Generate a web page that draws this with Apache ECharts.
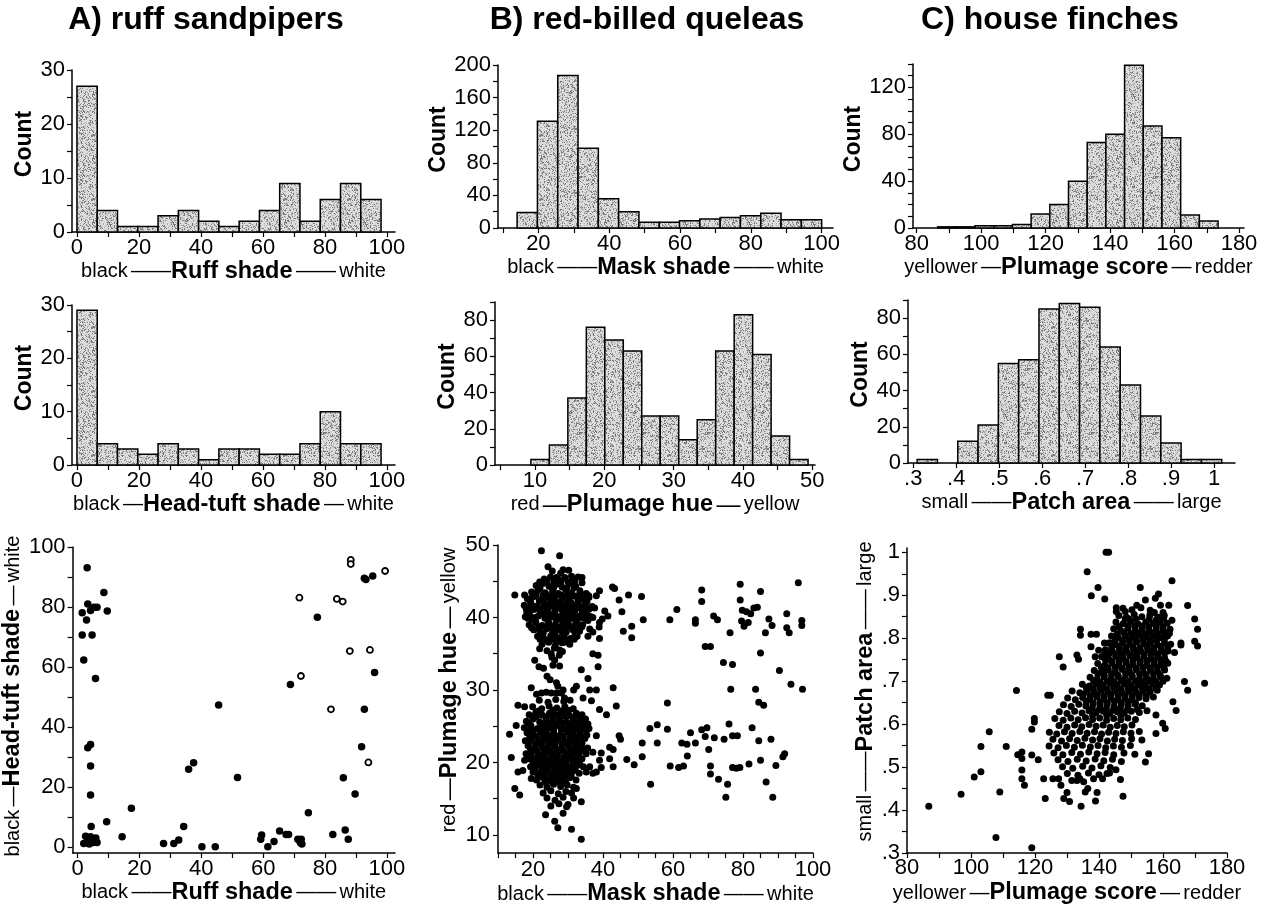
<!DOCTYPE html>
<html><head><meta charset="utf-8">
<script src="https://cdn.jsdelivr.net/npm/echarts@6/dist/echarts.min.js"></script>
<style>html,body{margin:0;padding:0;background:#fff}#c{width:1264px;height:907px}</style>
</head><body><div id="c"></div>
<script>
// ---------------- DATA ----------------
const panelTitles = ['A) ruff sandpipers', 'B) red-billed queleas', 'C) house finches'];

// histograms: [low edge, high edge] of the binned range and the counts of its 15 bins
const ruffShadeRange = [0, 98.1];
const ruffShadeCounts = [27, 4, 1, 1, 3, 4, 2, 1, 2, 4, 9, 2, 6, 9, 6];
const headTuftRange = [0, 98.1];
const headTuftCounts = [29, 4, 3, 2, 4, 3, 1, 3, 3, 2, 2, 4, 10, 4, 4];
const maskShadeRange = [14, 100];
const maskShadeCounts = [19, 131, 187, 98, 36, 20, 7, 7, 9, 11, 13, 15, 18, 10, 10];
const plumageHueRange = [9.4, 49.4];
const plumageHueCounts = [3, 11, 37, 76, 69, 63, 27, 27, 14, 25, 63, 83, 61, 16, 3];
const plumageScoreRange = [86.5, 173.5];
const plumageScoreCounts = [1, 1, 2, 2, 3, 12, 20, 40, 73, 80, 139, 87, 77, 11, 6];
const patchAreaRange = [0.309, 1.018];
const patchAreaCounts = [2, 0, 12, 21, 55, 57, 85, 88, 86, 64, 43, 26, 11, 2, 2];

// ruff sandpipers: [ruff shade, head-tuft shade]
const ruffFilled = [[3.1,93.1],[1.5,78.1],[3.3,81.0],[4.2,78.8],[2.9,75.7],[6.3,79.9],[5.3,79.9],[8.5,84.8],[9.6,78.7],[1.5,70.7],[4.7,70.7],[2.0,62.3],[5.8,56.2],[45.6,47.3],
[92.7,89.6],[93.2,89.2],[95.4,90.3],[77.5,76.6],[96.0,58.2],[68.8,54.2],[92.7,45.9],
[2.0,1.2],[3.3,33.1],[4.2,34.2],[4.2,27.0],[4.2,17.3],[4.4,6.8],[3.3,2.5],[4.2,3.4],[5.0,1.5],[5.9,3.0],[6.3,1.5],[3.0,1.5],[4.6,2.0],[2.6,3.6],[5.4,2.7],[3.8,1.0],
[9.4,8.4],[14.4,3.4],[17.4,12.9],[27.8,1.2],[31.1,1.2],[32.7,2.3],[34.3,6.8],[35.9,25.9],[37.5,28.1],[40.2,0.1],[44.5,0.1],[51.7,23.2],
[59.2,2.6],[59.5,4.0],[61.5,0.1],[63.5,1.8],[65.3,5.3],[67.4,4.2],[68.2,4.2],[71.2,2.6],[72.3,2.6],[72.0,1.5],[72.5,1.0],[74.6,11.4],[82.5,4.2],[85.9,23.1],[86.5,5.7],[87.5,2.6],[89.7,17.7],[91.8,33.4]];
const ruffOpen = [[88.3,95.7],[88.3,94.3],[99.4,92.0],[71.7,83.1],[83.8,82.7],[85.7,81.8],[88.0,65.3],[94.5,65.7],[72.2,57.0],[81.9,45.9],[94.0,28.2]];

// red-billed queleas: [mask shade, plumage hue]
const queleaSparse = [[47.3,43.1],[51.0,42.9],[45.4,40.8],[51.5,39.7],[45.8,38.1],[48.2,38.8],[48.2,37.2],[59.1,39.7],[61.1,41.1],[68.2,43.8],[68.2,42.2],[66.4,39.7],[66.4,39.2],[71.6,40.2],[72.7,39.7],[69.2,36.0],[70.7,36.0],[76.3,37.9],[74.4,33.8],[77.0,33.5],[76.5,30.1],[79.2,44.6],[79.2,42.4],[79.8,41.0],[81.0,40.8],[82.2,40.5],[83.1,41.3],[84.1,41.4],[79.6,39.5],[80.3,38.8],[81.5,39.3],[85.0,43.6],[85.0,35.1],[86.4,37.9],[87.4,39.8],[88.3,38.9],[92.5,40.5],[92.5,38.6],[93.2,37.9],[95.8,44.8],[96.8,39.6],[96.8,38.9],[90.4,32.7],[93.7,30.8],[97.0,30.1],[83.6,30.1],[84.5,28.3],[85.9,27.9],[58.4,28.2],[53.4,24.7],[55.5,25.2],[58.4,24.6],[51.2,22.7],[55.5,22.7],[46.8,20.4],[48.9,19.7],[51.2,20.8],[53.6,17.0],[59.2,19.5],[61.6,19.3],[63.0,19.5],[62.5,22.7],[64.0,22.5],[65.0,24.1],[66.4,22.7],[64.1,20.9],[68.2,24.5],[69.7,24.8],[69.2,23.6],[70.2,21.8],[71.8,23.4],[70.7,19.5],[70.7,18.4],[73.0,17.7],[74.6,23.2],[76.0,25.3],[77.0,23.7],[78.4,23.7],[75.6,17.0],[75.1,15.2],[77.0,19.3],[78.1,19.2],[79.1,19.3],[81.7,19.8],[82.6,24.8],[84.5,23.0],[85.0,20.3],[88.0,23.2],[89.4,19.6],[86.6,17.3],[88.5,15.2],[91.4,20.8],[91.9,21.2],
[22.4,49.2],[27.6,48.5],[24.3,47.0],[14.8,43.1],[17.6,43.1],[28.6,46.6],[26.7,45.5],[31.0,45.7],[34.0,45.5],[34.0,44.8],[38.1,43.0],[39.0,43.7],[42.7,44.2],[43.3,44.0],[44.6,42.4],[37.6,41.3],[40.5,40.9],[41.4,40.2],[39.8,39.8],[39.0,39.3],[37.1,40.0],[37.1,38.0],[38.9,38.7],[39.0,37.1],[36.2,38.4],[35.7,37.4],[37.1,35.0],[38.6,34.8],[38.6,33.2],[33.8,32.8],[35.7,31.6],[42.9,30.3],[38.1,30.0],[36.2,30.0],[32.4,30.5],[31.6,30.0],[41.0,26.6],[43.8,27.8],[39.0,27.3],[36.7,28.5],[34.3,28.9],[35.7,25.3],[34.8,24.8],[38.1,23.7],[44.6,23.7],[45.0,23.2],[41.9,22.1],[42.9,21.8],[41.9,20.5],[39.5,21.3],[37.1,21.4],[35.2,21.2],[39.0,20.3],[39.5,19.3],[42.9,19.4],[36.2,19.4],[37.1,18.5],[35.2,18.7],[38.1,18.7],[33.8,14.6],[33.8,9.4],[31.0,10.8],[27.1,11.0],[26.2,11.9],[23.6,12.8],[28.6,13.0],[30.0,14.2],[31.6,15.1],[32.4,16.4],[16.2,15.5],[14.8,16.4],[15.7,18.7],[13.8,20.7],[13.3,23.9],[15.7,27.9],[17.6,27.7],[15.2,25.1],[18.6,24.4],[17.6,20.3],[17.1,18.9],[19.5,17.8],
[21.9,35.7],[20.5,34.1],[21.7,33.2],[23.0,33.0],[24.0,31.9],[24.9,31.4],[26.7,31.0],[26.2,34.1],[25.7,33.4],[25.2,35.0],[27.6,35.5],[29.0,36.6],[27.6,33.3],[27.1,30.5],[19.5,30.3],[21.0,29.4],[22.4,29.6],[23.8,29.7],[25.2,29.6],[26.7,29.6],[28.1,29.6],[29.0,28.9],[28.6,30.0],[21.9,26.9],[21.0,26.3]];
const queleaYellowCluster = [[25.5,46.4],[27.9,46.1],[30.2,46.5],
[23.2,45.3],[25.0,45.6],[27.3,45.2],[29.1,45.5],[31.5,45.1],[32.9,45.6],
[20.9,44.4],[22.8,44.7],[24.6,44.3],[26.6,44.6],[28.3,44.2],[30.4,44.7],[32.2,44.3],
[19.6,43.5],[21.4,43.8],[23.5,43.4],[25.6,43.7],[27.2,43.3],[29.3,43.9],[31.1,43.4],[33.4,43.7],[35.2,43.3],
[18.4,42.6],[20.3,42.9],[22.4,42.5],[24.2,42.8],[26.1,42.4],[28.4,42.8],[30.2,42.5],[32.3,42.9],[34.1,42.5],[36.0,42.8],
[17.5,41.7],[19.4,41.9],[21.2,41.6],[23.3,42.0],[25.2,41.7],[27.1,41.9],[29.3,41.6],[31.0,42.0],[33.1,41.7],[35.0,41.9],[36.9,41.5],
[18.2,40.8],[20.2,41.1],[22.1,40.7],[24.1,41.0],[26.2,40.8],[28.1,41.1],[30.2,40.8],[32.0,41.0],[34.1,40.7],[35.8,41.1],
[17.8,40.1],[19.7,39.8],[21.5,40.2],[23.4,39.9],[25.2,40.1],[27.3,39.8],[29.2,40.0],[31.1,39.9],[33.2,40.2],[35.1,39.8],[36.6,40.1],
[18.9,39.0],[20.8,39.3],[22.6,38.9],[24.6,39.2],[26.4,39.0],[28.5,39.3],[30.3,38.9],[32.2,39.2],[34.2,39.0],
[20.2,38.3],[22.0,38.0],[23.8,38.4],[25.7,38.1],[27.6,38.3],[29.5,38.0],[31.4,38.3],[33.3,38.1],
[21.3,37.4],[23.1,37.1],[25.1,37.5],[27.0,37.2],[28.9,37.4],[30.7,37.1],[32.6,37.4],
[22.6,36.3],[24.5,36.6],[26.4,36.2],[28.3,36.5],[30.5,36.3],
[24.0,35.4],[26.1,35.8],[28.4,35.3],[25.4,34.5],[27.5,34.8],
[22.0,44.0],[25.9,44.1],[29.6,44.0],[31.7,44.1],
[20.9,43.2],[24.8,43.0],[28.2,43.1],[30.9,42.9],[34.6,43.1],
[19.3,42.2],[21.8,42.3],[25.1,42.1],[27.9,42.2],[29.8,42.1],[32.9,42.3],[35.4,42.2],
[18.9,41.3],[21.6,41.2],[24.5,41.4],[27.6,41.3],[30.6,41.4],[33.5,41.3],[36.1,41.2],
[19.0,40.4],[22.9,40.5],[25.5,40.4],[29.1,40.5],[31.5,40.4],[34.7,40.5],
[20.6,39.6],[24.3,39.5],[26.6,39.7],[30.1,39.6],[32.6,39.5],[35.7,39.6],
[21.6,38.7],[25.1,38.6],[27.3,38.7],[31.0,38.6],[33.9,38.7],
[22.9,37.8],[26.3,37.7],[28.4,37.9],[32.0,37.8],
[24.1,36.9],[27.8,36.8],[29.9,36.9],
[21.9,44.9],[24.0,45.0],[26.0,44.9],[28.0,45.0],[30.0,44.9],[31.9,45.0],
[19.9,43.0],[22.9,43.1],[26.5,43.0],[29.9,43.2],[32.8,43.0],[35.9,43.0],
[18.0,41.3],[20.3,41.5],[22.8,41.4],[26.1,41.5],[28.7,41.4],[32.1,41.5],[34.6,41.4],
[18.5,39.9],[20.6,40.0],[24.3,40.3],[26.6,40.2],[28.3,40.3],[30.1,40.1],[32.2,40.0],[34.0,40.0],[35.9,40.2],
[19.6,38.6],[23.5,38.7],[26.9,38.6],[29.0,38.6],[32.7,38.7],
[22.0,37.0],[26.0,37.0],[28.0,36.9],[31.8,37.0]];
const queleaRedCluster = [[21.8,28.6],[24.3,28.3],[26.5,28.7],[28.8,28.4],[30.6,28.6],
[19.9,27.7],[22.5,27.4],[24.6,27.8],[26.8,27.5],[29.1,27.7],[31.5,27.4],
[18.9,26.6],[20.8,26.9],[22.7,26.5],[24.7,26.8],[26.6,26.6],[28.5,26.9],[30.4,26.5],[32.4,26.8],[34.0,26.6],
[18.1,25.7],[20.0,26.0],[21.9,25.6],[23.8,25.9],[25.7,25.7],[27.6,26.0],[29.5,25.6],[31.4,25.9],[33.3,25.7],[35.0,26.0],
[17.5,24.8],[19.4,25.1],[21.3,24.7],[23.1,25.0],[25.0,24.8],[27.0,25.1],[28.8,24.7],[30.7,25.0],[32.6,24.8],[34.5,25.1],[36.0,24.7],
[18.3,24.1],[20.2,23.8],[22.2,24.2],[24.0,23.9],[25.9,24.1],[27.8,23.8],[29.8,24.2],[31.6,23.9],[33.5,24.1],[35.4,23.8],
[17.8,23.0],[19.6,23.3],[21.5,22.9],[23.4,23.2],[25.3,23.0],[27.2,23.3],[29.1,22.9],[31.0,23.2],[32.9,23.0],[34.8,23.3],
[18.6,22.3],[20.5,22.0],[22.4,22.4],[24.3,22.1],[26.2,22.3],[28.1,22.0],[30.0,22.4],[31.9,22.1],[33.8,22.3],[35.6,22.0],
[18.0,21.2],[19.9,21.5],[21.7,21.1],[23.6,21.4],[25.5,21.2],[27.5,21.5],[29.4,21.1],[31.3,21.4],[33.1,21.2],[34.9,21.5],
[18.8,20.5],[20.7,20.2],[22.6,20.6],[24.5,20.3],[26.4,20.5],[28.3,20.2],[30.2,20.6],[32.1,20.3],[34.0,20.5],
[19.3,19.4],[21.2,19.7],[23.1,19.3],[25.0,19.6],[26.9,19.4],[28.8,19.7],[30.7,19.3],[32.6,19.6],[34.4,19.4],
[20.0,18.7],[21.9,18.4],[23.8,18.8],[25.7,18.5],[27.6,18.7],[29.5,18.4],[31.4,18.8],[33.2,18.5],
[21.0,17.6],[22.9,17.9],[24.8,17.5],[26.7,17.8],[28.6,17.6],[30.5,17.9],[32.3,17.6],
[22.0,16.9],[24.0,16.6],[25.9,17.0],[27.9,16.7],[29.8,16.9],[31.6,16.6],
[22.9,15.8],[25.1,16.1],[27.2,15.7],[29.4,16.0],[31.0,15.8],
[24.0,15.1],[26.3,14.8],[28.6,15.2],[25.1,14.0],[27.4,14.3],[29.6,13.9],
[21.6,27.1],[25.7,27.2],[28.0,27.1],[30.1,27.2],
[19.8,26.3],[23.7,26.2],[25.6,26.3],[27.5,26.2],[29.4,26.3],[31.6,26.2],[33.4,26.3],
[18.7,25.4],[22.7,25.3],[24.6,25.4],[26.5,25.3],[28.4,25.4],[30.3,25.3],[32.2,25.4],[34.1,25.3],
[19.9,24.5],[21.9,24.4],[23.8,24.5],[25.9,24.4],[28.1,24.5],[30.0,24.4],[31.7,24.5],[33.6,24.4],[35.3,24.5],
[19.1,23.6],[21.0,23.6],[22.9,23.5],[24.8,23.6],[26.7,23.5],[28.6,23.6],[30.5,23.5],[32.4,23.6],[34.3,23.5],
[18.8,22.7],[20.7,22.6],[22.6,22.7],[24.5,22.6],[26.4,22.7],[28.3,22.6],[30.2,22.7],[32.1,22.6],[34.0,22.7],
[19.3,21.8],[21.1,21.7],[23.0,21.8],[24.9,21.7],[26.8,21.8],[28.7,21.7],[30.6,21.8],[32.5,21.7],[34.3,21.8],
[19.4,20.9],[21.3,20.8],[23.2,20.9],[25.1,20.8],[27.0,20.9],[28.9,20.8],[30.8,20.9],[32.7,20.8],
[20.0,20.0],[21.9,19.9],[23.8,20.0],[25.7,19.9],[27.6,20.0],[29.5,19.9],[31.4,20.0],[33.3,19.9],
[20.6,19.1],[22.5,19.0],[24.4,19.1],[26.3,19.0],[28.2,19.1],[30.1,19.0],[32.0,19.1],
[21.4,18.2],[23.3,18.1],[25.2,18.2],[27.1,18.1],[29.0,18.2],[30.9,18.1],
[23.5,17.3],[25.6,17.2],[27.5,17.3],[29.3,17.2]];

// house finches: [plumage score, patch area]
const finchSparse = [[86.8,.409],[96.9,.437],[101.0,.477],[103.1,.489],[103.1,.548],[105.7,.582],[111.0,.548],[109.0,.442],[107.8,.336],[119.0,.312],[114.2,.678],[114.6,.529],[115.9,.535],[115.9,.520],[115.9,.493],[115.9,.473],[116.7,.458],[119.0,.528],[121.0,.517],[119.8,.613],[119.8,.605],[119.0,.588],[123.2,.427],[127.6,.757],[128.8,.733],[124.0,.667],[124.8,.667],[136.3,.955],[137.6,.899],[139.7,.918],[141.8,.891],[142.2,1.0],[143.0,1.0],[152.9,.918],[162.8,.934],[167.7,.876],[169.9,.845],[170.8,.821],[169.9,.793],[170.8,.782],[173.0,.695],[166.7,.699],[167.7,.679],[164.1,.632],[163.1,.652],[157.8,.621],[157.8,.578],[160.7,.590],[159.9,.602],[154.5,.512],[155.5,.531],[147.5,.432],[146.7,.471],[145.3,.494],[142.5,.485],[141.1,.473],[138.3,.473],[139.4,.441],[138.9,.421],[136.5,.450],[135.7,.442],[134.4,.409],[130.8,.420],[129.0,.427],[130.0,.441],[133.1,.469],[134.0,.473],[127.4,.473],[125.6,.473],[122.7,.473],[128.1,.458],[162.8,.842],[163.6,.767],[165.6,.789],[165.6,.784],[134.2,.821],[134.2,.807],[133.1,.761],[133.6,.751],[137.5,.780],[137.5,.809],[139.2,.809],[139.9,.772],[138.8,.757],[142.0,.726],[145.4,.871],[145.4,.862],[148.2,.862],[148.2,.846],[151.8,.877],[154.5,.889],[157.6,.893],[158.6,.903],[159.2,.877],[161.8,.877],[160.0,.860],[157.3,.860],[141.7,.789],[143.5,.789]];
const finchCloud = [[147.5,.870],[150.3,.866],[153.1,.871],[156.0,.865],
[146.2,.853],[148.6,.849],[151.0,.855],[153.4,.850],[155.9,.854],[158.5,.849],[160.4,.853],
[145.3,.838],[147.6,.834],[150.0,.839],[152.2,.833],[154.6,.837],[156.8,.834],[159.0,.839],[161.3,.835],
[144.6,.822],[146.8,.818],[149.0,.823],[151.3,.819],[153.5,.821],[155.7,.817],[157.9,.822],[160.1,.818],[162.2,.821],
[143.9,.805],[146.0,.801],[148.2,.806],[150.5,.802],[152.6,.807],[154.8,.803],[157.0,.806],[159.2,.801],[161.4,.805],
[143.1,.789],[145.2,.785],[147.4,.790],[149.6,.786],[151.8,.791],[154.0,.787],[156.1,.790],[158.3,.785],[160.5,.789],[162.4,.786],
[142.0,.773],[144.2,.769],[146.4,.774],[148.6,.770],[150.8,.775],[153.0,.771],[155.2,.774],[157.3,.769],[159.5,.773],[161.6,.770],
[140.8,.757],[143.0,.753],[145.2,.758],[147.4,.754],[149.6,.759],[151.8,.755],[154.0,.758],[156.2,.753],[158.3,.757],[160.5,.754],
[139.6,.741],[141.8,.737],[144.0,.742],[146.2,.738],[148.4,.743],[150.6,.739],[152.8,.742],[155.0,.737],[157.2,.741],[159.4,.738],[161.5,.742],
[138.5,.725],[140.7,.721],[142.9,.726],[145.1,.722],[147.3,.727],[149.5,.723],[151.7,.726],[153.9,.721],[156.1,.725],[158.3,.722],[160.5,.726],
[137.2,.709],[139.4,.705],[141.6,.710],[143.8,.706],[146.0,.711],[148.2,.707],[150.4,.710],[152.6,.705],[154.8,.709],[157.0,.706],[159.2,.710],[161.2,.707],
[134.8,.693],[137.0,.689],[139.1,.694],[141.3,.690],[143.5,.695],[145.7,.691],[147.9,.694],[150.1,.689],[152.3,.693],[154.5,.690],[156.7,.694],[158.9,.691],
[131.6,.677],[134.0,.673],[136.2,.678],[138.4,.674],[140.6,.679],[142.8,.675],[145.0,.678],[147.2,.673],[149.4,.677],[151.6,.674],[153.8,.678],[156.0,.675],[158.2,.679],
[130.2,.661],[132.6,.657],[134.9,.662],[137.1,.658],[139.3,.663],[141.5,.659],[143.7,.662],[145.9,.657],[148.1,.661],[150.3,.658],[152.5,.662],[154.7,.659],[157.0,.663],
[128.9,.645],[131.3,.641],[133.7,.646],[135.9,.642],[138.1,.647],[140.3,.643],[142.5,.646],[144.7,.641],[146.9,.645],[149.1,.642],[151.3,.646],[153.5,.643],
[127.6,.629],[130.0,.625],[132.4,.630],[134.7,.626],[136.9,.631],[139.1,.627],[141.3,.630],[143.5,.625],[145.7,.629],[147.9,.626],[150.1,.630],[152.6,.627],[155.0,.631],
[126.2,.613],[128.8,.609],[131.2,.614],[133.5,.610],[135.8,.615],[138.0,.611],[140.2,.614],[142.4,.609],[144.6,.613],[146.8,.610],[149.0,.614],[151.4,.611],
[127.5,.597],[130.0,.593],[132.4,.598],[134.6,.594],[136.9,.599],[139.1,.595],[141.3,.598],[143.5,.593],[145.7,.597],[147.9,.594],[150.3,.598],
[124.5,.581],[126.8,.577],[129.2,.582],[131.6,.578],[134.0,.583],[136.3,.579],[138.6,.582],[140.8,.577],[143.0,.581],[145.3,.578],[147.6,.582],[150.0,.579],[152.6,.583],
[125.6,.565],[128.3,.561],[130.8,.566],[133.2,.562],[135.6,.567],[138.0,.563],[140.3,.566],[142.6,.561],[144.9,.565],[147.3,.562],[150.2,.566],[153.4,.563],
[124.4,.549],[127.2,.545],[129.8,.550],[132.3,.546],[134.8,.551],[137.3,.547],[139.7,.550],[142.1,.545],[144.5,.549],[147.0,.546],[149.8,.550],
[125.9,.533],[128.7,.529],[131.5,.534],[134.2,.530],[136.8,.535],[139.4,.531],[141.9,.534],[144.6,.529],[147.8,.533],[151.2,.530],
[127.2,.517],[130.3,.513],[133.2,.518],[136.0,.514],[138.8,.519],[141.5,.515],[144.2,.518],[147.0,.513],
[128.6,.501],[131.8,.497],[134.9,.502],[137.8,.498],[140.6,.503],[143.5,.499],
[130.1,.485],[133.4,.481],[136.7,.486],[140.0,.482],[143.3,.486],[131.5,.469],[135.2,.466],
[149.1,.829],[153.5,.828],[157.9,.829],
[147.8,.813],[152.0,.812],[156.3,.813],[160.5,.812],
[145.1,.797],[149.4,.796],[153.7,.797],[158.0,.796],[160.4,.797],
[146.3,.781],[150.6,.780],[155.0,.781],[159.3,.780],
[143.2,.765],[147.5,.764],[151.8,.765],[156.2,.764],[160.5,.765],
[142.0,.749],[146.3,.748],[150.7,.749],[155.0,.748],[159.3,.749],
[140.7,.733],[145.1,.732],[149.4,.733],[153.8,.732],[158.1,.733],
[139.6,.717],[143.9,.716],[148.3,.717],[152.7,.716],[157.0,.717],
[138.3,.701],[142.6,.700],[147.0,.701],[151.4,.700],[155.7,.701],[160.0,.700],
[136.0,.685],[140.3,.684],[144.6,.685],[149.0,.684],[153.4,.685],[157.7,.684],
[135.1,.669],[139.5,.668],[143.8,.669],[148.2,.668],[152.6,.669],
[136.0,.653],[140.4,.652],[144.8,.653],[149.2,.652],
[137.9,.637],[142.3,.636],[146.7,.637],
[138.0,.621],[142.4,.620],[146.8,.621],
[149.3,.845],[151.6,.844],[155.7,.845],[158.0,.844],[160.2,.845],
[146.2,.827],[151.2,.827],[155.6,.826],[160.0,.827],
[145.7,.810],[149.9,.811],[154.2,.810],[158.4,.811],[162.0,.811],
[147.3,.795],[151.5,.795],[155.9,.795],
[144.0,.778],[148.4,.778],[152.8,.778],[157.1,.778],[161.5,.778],
[141.7,.762],[145.6,.762],[149.9,.762],[154.1,.762],[158.4,.762],
[144.1,.746],[148.5,.746],[152.9,.746],[157.2,.746],[161.0,.746],
[142.8,.730],[147.2,.730],[151.6,.730],[156.0,.730],[160.3,.730],
[141.6,.714],[145.9,.714],[150.3,.714],[154.7,.714],[159.1,.714],
[140.4,.698],[144.8,.698],[149.2,.698],[153.6,.698],[157.9,.698],
[138.2,.682],[142.5,.682],[146.8,.682],[151.2,.682],[155.6,.682],
[137.3,.666],[141.6,.666],[146.0,.666],[150.4,.666],[154.8,.666],
[138.2,.650],[142.6,.650],[147.0,.650],[151.4,.650],
[140.1,.634],[144.5,.634],[148.9,.634],[152.0,.634]];

// ---------------- BUILD ----------------
function bins(range, counts) {
  const w = (range[1] - range[0]) / counts.length;
  return counts.map((c, i) => [range[0] + i * w, range[0] + (i + 1) * w, c]).filter(b => b[2] > 0);
}
function stipple() {
  const c = document.createElement('canvas'); c.width = c.height = 64;
  const g = c.getContext('2d'); g.fillStyle = '#dcdcdc'; g.fillRect(0, 0, 64, 64);
  for (let i = 0; i < 64; i++) for (let j = 0; j < 64; j++) {
    let h = Math.imul(i * 374761393 + j * 668265263, 1274126177); h ^= h >>> 15; h = Math.imul(h, 2246822519); h ^= h >>> 13;
    const k = h & 15;
    if (k < 3) { g.fillStyle = '#7a7a7a'; g.fillRect(i, j, 1, 1); } else if (k < 5) { g.fillStyle = '#b0b0b0'; g.fillRect(i, j, 1, 1); }
  }
  return c;
}
const pat = { image: stipple(), repeat: 'repeat' };
const FF = 'Liberation Sans, Arial, Helvetica, sans-serif';
function richFor(dash) {
  return { n: { fontSize: 20, fontFamily: FF, color: '#000' }, d: { fontSize: dash, fontFamily: FF, color: '#000' }, b: { fontSize: 23.5, fontWeight: 'bold', fontFamily: FF, color: '#000' } };
}
function nm(l, b, r, dl, dr) { return '{n|' + l + '} {d|' + dl + '}{b|' + b + '} {d|' + dr + '} {n|' + r + '}'; }
function seq(a, b, s) { const o = []; for (let v = a; v <= b + 1e-9; v += s) o.push(+v.toFixed(4)); return o; }
const dec = v => (Math.abs(v - 1) < 1e-6 ? '1' : '.' + Math.round(v * 10));

function axis(gi, min, max, labels, ticks, name, gap, margin, opts) {
  opts = opts || {};
  const ts = opts.plain ? { fontSize: 23, fontWeight: 'bold', fontFamily: FF, color: '#000' } : { rich: richFor(opts.dash || 20) };
  if (opts.shift) ts.padding = [0, 0, 0, opts.shift];
  return {
    type: 'value', gridIndex: gi, min: min, max: max,
    axisLine: { onZero: false, lineStyle: { color: '#000', width: 1.5 } },
    axisTick: { show: true, customValues: ticks, length: 5, lineStyle: { color: '#000', width: 1.2 } },
    axisLabel: { customValues: labels, fontSize: 22, color: '#000', fontFamily: FF, margin: margin, formatter: opts.fmt || (v => String(v)) },
    splitLine: { show: false },
    name: name, nameLocation: 'middle', nameGap: gap, nameTextStyle: ts
  };
}

const grid = [
  { left: 72, top: 70, width: 323, height: 162 },
  { left: 72, top: 305, width: 323, height: 160 },
  { left: 72, top: 547, width: 323, height: 306 },
  { left: 498, top: 65, width: 335, height: 163 },
  { left: 495, top: 302, width: 320, height: 163 },
  { left: 498, top: 545, width: 315, height: 312 },
  { left: 913, top: 64, width: 331, height: 164 },
  { left: 908, top: 300, width: 327, height: 163 },
  { left: 907, top: 548, width: 320, height: 305 }
];
const E2 = '\u2014\u2014', E1 = '\u2014';
const xAxis = [
  axis(0, -1.6, 102.6, seq(0, 100, 20), seq(0, 100, 10), nm('black', 'Ruff shade', 'white', E2, E2), 25, 5),
  axis(1, -1.6, 102.6, seq(0, 100, 20), seq(0, 100, 10), nm('black', 'Head-tuft shade', 'white', E1, E1), 26, 5),
  axis(2, -1.6, 102.6, seq(0, 100, 20), seq(0, 100, 10), nm('black', 'Ruff shade', 'white', E2, E2), 23, 5),
  axis(3, 8.6, 103.2, seq(20, 100, 20), seq(10, 100, 10), nm('black', 'Mask shade', 'white', E2, E2), 26, 5),
  axis(4, 4.22, 50.4, seq(10, 50, 10), seq(5, 50, 5), nm('red', 'Plumage hue', 'yellow', E1, E1), 26, 5, { dash: 24 }),
  axis(5, 10, 100, seq(20, 100, 20), seq(10, 100, 5), nm('black', 'Mask shade', 'white', E2, E2), 23, 6),
  axis(6, 78.85, 181.55, seq(80, 180, 20), seq(80, 180, 10), nm('yellower', 'Plumage score', 'redder', E1, E1), 26, 5),
  axis(7, 0.2877, 1.0489, seq(0.3, 1.0, 0.1), seq(0.3, 1.0, 0.1), nm('small', 'Patch area', 'large', E2, E2), 20, 5, { fmt: dec }),
  axis(8, 80, 180, seq(80, 180, 20), seq(80, 180, 10), nm('yellower', 'Plumage score', 'redder', E1, E1), 28, 4)
];
const yAxis = [
  axis(0, 0, 30, seq(0, 30, 10), seq(0, 30, 5), 'Count', 28, 7, { plain: true, shift: 14 }),
  axis(1, 0, 30, seq(0, 30, 10), seq(0, 30, 5), 'Count', 33, 7, { plain: true, shift: 14 }),
  axis(2, -2, 100, seq(0, 100, 20), seq(0, 100, 10), nm('black', 'Head-tuft shade', 'white', E1, E1), 32, 7, { shift: 8 }),
  axis(3, 0, 200, seq(0, 200, 40), seq(0, 200, 20), 'Count', 40, 7, { plain: true, shift: 14 }),
  axis(4, 0, 90, seq(0, 80, 20), seq(0, 90, 10), 'Count', 33, 7, { plain: true, shift: 14 }),
  axis(5, 7.5, 50, seq(10, 50, 10), seq(10, 50, 5), nm('red', 'Plumage hue', 'yellow', E1, E1), 36, 8, { dash: 22, shift: 18 }),
  axis(6, 0, 140, seq(0, 120, 40), seq(0, 140, 10), 'Count', 31, 7, { plain: true, shift: 14 }),
  axis(7, 0, 90, seq(0, 80, 20), seq(0, 90, 10), 'Count', 31, 7, { plain: true, shift: 14 }),
  axis(8, 0.3, 1.01, seq(0.3, 1.0, 0.1), seq(0.3, 1.0, 0.05), nm('small', 'Patch area', 'large', E2, E2), 21, 7, { fmt: dec, shift: 18 })
];

function hist(gi, data) {
  return {
    type: 'custom', xAxisIndex: gi, yAxisIndex: gi, data: data, encode: { x: [0, 1], y: 2 }, silent: true,
    renderItem: function (params, api) {
      const p0 = api.coord([api.value(0), api.value(2)]);
      const p1 = api.coord([api.value(1), 0]);
      return { type: 'rect', shape: { x: p0[0], y: p0[1], width: p1[0] - p0[0], height: p1[1] - p0[1] },
        style: { fill: pat, stroke: '#000', lineWidth: 1.5 } };
    }
  };
}
function dots(gi, data, size) {
  return { type: 'scatter', xAxisIndex: gi, yAxisIndex: gi, data: data, symbolSize: size, silent: true, itemStyle: { color: '#000', opacity: 1 } };
}

const titleCenters = [201, 642, 1045];
const option = {
  animation: false,
  backgroundColor: '#fff',
  title: panelTitles.map((t, i) => ({ text: t, left: titleCenters[i], textAlign: 'center', top: -1,
    textStyle: { fontSize: 32, fontWeight: 'bold', fontFamily: FF, color: '#000' } })),
  grid: grid, xAxis: xAxis, yAxis: yAxis,
  series: [
    hist(0, bins(ruffShadeRange, ruffShadeCounts)),
    hist(1, bins(headTuftRange, headTuftCounts)),
    dots(2, ruffFilled, 7.5),
    { type: 'scatter', xAxisIndex: 2, yAxisIndex: 2, data: ruffOpen, symbolSize: 6, silent: true, itemStyle: { color: '#fff', borderColor: '#000', borderWidth: 1.8, opacity: 1 } },
    hist(3, bins(maskShadeRange, maskShadeCounts)),
    hist(4, bins(plumageHueRange, plumageHueCounts)),
    dots(5, queleaSparse.concat(queleaYellowCluster, queleaRedCluster), 7),
    hist(6, bins(plumageScoreRange, plumageScoreCounts)),
    hist(7, bins(patchAreaRange, patchAreaCounts)),
    dots(8, finchSparse.concat(finchCloud), 7)
  ]
};
echarts.init(document.getElementById('c'), null, { renderer: 'canvas' }).setOption(option);
</script></body></html>
